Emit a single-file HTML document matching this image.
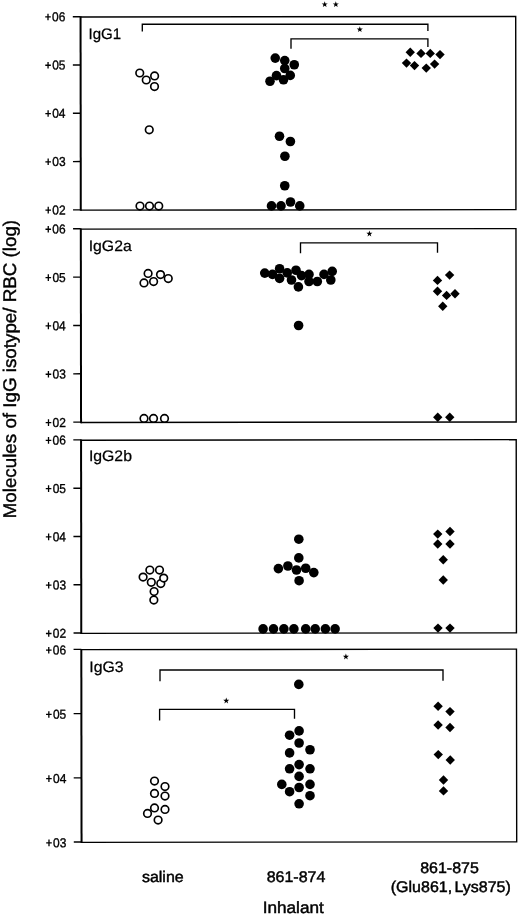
<!DOCTYPE html>
<html><head><meta charset="utf-8"><title>IgG isotypes</title>
<style>html,body{margin:0;padding:0;background:#fff;}body{width:520px;height:915px;overflow:hidden;}svg{display:block;filter:grayscale(1);}text{font-family:"Liberation Sans",sans-serif;fill:#000;}</style></head><body>
<svg width="520" height="915" viewBox="0 0 520 915">
<rect width="520" height="915" fill="#fff"/>
<g fill="#fff" stroke="#000" stroke-width="1.65">
<circle cx="158.1" cy="820" r="3.8"/>
<circle cx="147.5" cy="813.4" r="3.8"/>
<circle cx="165" cy="809.4" r="3.8"/>
<circle cx="154.5" cy="807.9" r="3.8"/>
<circle cx="165" cy="796" r="3.8"/>
<circle cx="154.5" cy="793.4" r="3.8"/>
<circle cx="165" cy="786.5" r="3.8"/>
<circle cx="154.5" cy="781" r="3.8"/>
<circle cx="153.85" cy="600" r="3.8"/>
<circle cx="154.1" cy="591.5" r="3.8"/>
<circle cx="160.8" cy="583.5" r="3.8"/>
<circle cx="151.3" cy="582.3" r="3.8"/>
<circle cx="163.7" cy="578.1" r="3.8"/>
<circle cx="143.1" cy="577.1" r="3.8"/>
<circle cx="149.85" cy="570" r="3.8"/>
<circle cx="159.5" cy="570" r="3.8"/>
<circle cx="144" cy="418.4" r="3.8"/>
<circle cx="153.5" cy="418.4" r="3.8"/>
<circle cx="164.5" cy="418.4" r="3.8"/>
<circle cx="144" cy="282.9" r="3.8"/>
<circle cx="153.6" cy="281.5" r="3.8"/>
<circle cx="168.25" cy="278.5" r="3.8"/>
<circle cx="160.5" cy="274.6" r="3.8"/>
<circle cx="148.1" cy="273.4" r="3.8"/>
<circle cx="140" cy="206" r="3.8"/>
<circle cx="149.5" cy="206" r="3.8"/>
<circle cx="158.75" cy="206" r="3.8"/>
<circle cx="149.25" cy="129.75" r="3.8"/>
<circle cx="154.5" cy="86.6" r="3.8"/>
<circle cx="146.25" cy="80" r="3.8"/>
<circle cx="154.6" cy="75.9" r="3.8"/>
<circle cx="139.75" cy="73" r="3.8"/>
</g>
<g fill="#000">
<circle cx="275.25" cy="58.1" r="4.8"/>
<circle cx="284.75" cy="60.6" r="4.8"/>
<circle cx="294.25" cy="64.75" r="4.8"/>
<circle cx="284.75" cy="68.5" r="4.8"/>
<circle cx="276.5" cy="75.6" r="4.8"/>
<circle cx="290.25" cy="75.4" r="4.8"/>
<circle cx="283.5" cy="79.75" r="4.8"/>
<circle cx="270" cy="81.25" r="4.8"/>
<circle cx="279.5" cy="136.25" r="4.8"/>
<circle cx="290.4" cy="141.5" r="4.8"/>
<circle cx="284.9" cy="156.25" r="4.8"/>
<circle cx="284.75" cy="185.75" r="4.8"/>
<circle cx="290.5" cy="202" r="4.8"/>
<circle cx="271.5" cy="205.9" r="4.8"/>
<circle cx="281" cy="205.9" r="4.8"/>
<circle cx="299.75" cy="205.9" r="4.8"/>
<circle cx="264.75" cy="273.1" r="4.8"/>
<circle cx="272.5" cy="274.4" r="4.8"/>
<circle cx="279.6" cy="268.75" r="4.8"/>
<circle cx="279.6" cy="278.4" r="4.8"/>
<circle cx="287.25" cy="272.9" r="4.8"/>
<circle cx="291.5" cy="280" r="4.8"/>
<circle cx="296" cy="270.25" r="4.8"/>
<circle cx="298.4" cy="286.9" r="4.8"/>
<circle cx="301.5" cy="275.6" r="4.8"/>
<circle cx="309" cy="274.4" r="4.8"/>
<circle cx="309" cy="281.5" r="4.8"/>
<circle cx="317.3" cy="281.5" r="4.8"/>
<circle cx="324" cy="274.4" r="4.8"/>
<circle cx="332.2" cy="271.4" r="4.8"/>
<circle cx="330.8" cy="280" r="4.8"/>
<circle cx="298.6" cy="325.5" r="4.8"/>
<circle cx="298.8" cy="539.2" r="4.8"/>
<circle cx="298.8" cy="557.9" r="4.8"/>
<circle cx="278.4" cy="568.6" r="4.8"/>
<circle cx="287.9" cy="566" r="4.8"/>
<circle cx="296.5" cy="570" r="4.8"/>
<circle cx="305.7" cy="568.25" r="4.8"/>
<circle cx="313.8" cy="572.6" r="4.8"/>
<circle cx="299.1" cy="580.7" r="4.8"/>
<circle cx="263.1" cy="628.9" r="4.8"/>
<circle cx="273.5" cy="628.9" r="4.8"/>
<circle cx="283.9" cy="628.9" r="4.8"/>
<circle cx="293.9" cy="628.9" r="4.8"/>
<circle cx="305.7" cy="628.9" r="4.8"/>
<circle cx="315.2" cy="628.9" r="4.8"/>
<circle cx="325.4" cy="628.9" r="4.8"/>
<circle cx="335.1" cy="628.9" r="4.8"/>
<circle cx="298.8" cy="684.4" r="4.8"/>
<circle cx="299.1" cy="730.9" r="4.8"/>
<circle cx="289.6" cy="735.2" r="4.8"/>
<circle cx="299.1" cy="743" r="4.8"/>
<circle cx="310" cy="749.75" r="4.8"/>
<circle cx="289.6" cy="752.9" r="4.8"/>
<circle cx="299.1" cy="764.6" r="4.8"/>
<circle cx="289.6" cy="768.8" r="4.8"/>
<circle cx="310" cy="768.8" r="4.8"/>
<circle cx="299.1" cy="776.4" r="4.8"/>
<circle cx="281.8" cy="784.4" r="4.8"/>
<circle cx="310" cy="784.4" r="4.8"/>
<circle cx="299.1" cy="787.5" r="4.8"/>
<circle cx="289.6" cy="791.7" r="4.8"/>
<circle cx="310" cy="795.7" r="4.8"/>
<circle cx="299.1" cy="803.8" r="4.8"/>
<path d="M405.55 52.25L410.25 47.55L414.95 52.25L410.25 56.95Z"/>
<path d="M416.3 53.4L421 48.699999999999996L425.7 53.4L421 58.1Z"/>
<path d="M425.55 53.4L430.25 48.699999999999996L434.95 53.4L430.25 58.1Z"/>
<path d="M435.3 54.6L440 49.9L444.7 54.6L440 59.300000000000004Z"/>
<path d="M401.8 63.1L406.5 58.4L411.2 63.1L406.5 67.8Z"/>
<path d="M409.8 65.6L414.5 60.89999999999999L419.2 65.6L414.5 70.3Z"/>
<path d="M421.55 68.1L426.25 63.39999999999999L430.95 68.1L426.25 72.8Z"/>
<path d="M429.90000000000003 64.1L434.6 59.39999999999999L439.3 64.1L434.6 68.8Z"/>
<path d="M444.90000000000003 275.1L449.6 270.40000000000003L454.3 275.1L449.6 279.8Z"/>
<path d="M432.8 280.4L437.5 275.7L442.2 280.4L437.5 285.09999999999997Z"/>
<path d="M432.8 291.25L437.5 286.55L442.2 291.25L437.5 295.95Z"/>
<path d="M441.90000000000003 295.4L446.6 290.7L451.3 295.4L446.6 300.09999999999997Z"/>
<path d="M450.3 293.75L455 289.05L459.7 293.75L455 298.45Z"/>
<path d="M438.05 306.25L442.75 301.55L447.45 306.25L442.75 310.95Z"/>
<path d="M433.05 417.25L437.75 412.55L442.45 417.25L437.75 421.95Z"/>
<path d="M445.05 417.25L449.75 412.55L454.45 417.25L449.75 421.95Z"/>
<path d="M445.3 531.5L450 526.8L454.7 531.5L450 536.2Z"/>
<path d="M433.05 534.1L437.75 529.4L442.45 534.1L437.75 538.8000000000001Z"/>
<path d="M433.05 544L437.75 539.3L442.45 544L437.75 548.7Z"/>
<path d="M445.3 544L450 539.3L454.7 544L450 548.7Z"/>
<path d="M438.55 559.75L443.25 555.05L447.95 559.75L443.25 564.45Z"/>
<path d="M438.55 580L443.25 575.3L447.95 580L443.25 584.7Z"/>
<path d="M433.3 628.1L438 623.4L442.7 628.1L438 632.8000000000001Z"/>
<path d="M445.3 628.1L450 623.4L454.7 628.1L450 632.8000000000001Z"/>
<path d="M433.40000000000003 706.25L438.1 701.55L442.8 706.25L438.1 710.95Z"/>
<path d="M445.3 711.6L450 706.9L454.7 711.6L450 716.3000000000001Z"/>
<path d="M433.40000000000003 725L438.1 720.3L442.8 725L438.1 729.7Z"/>
<path d="M445.3 727.5L450 722.8L454.7 727.5L450 732.2Z"/>
<path d="M433.55 754.6L438.25 749.9L442.95 754.6L438.25 759.3000000000001Z"/>
<path d="M445.55 760L450.25 755.3L454.95 760L450.25 764.7Z"/>
<path d="M438.8 780L443.5 775.3L448.2 780L443.5 784.7Z"/>
<path d="M438.8 790.9L443.5 786.1999999999999L448.2 790.9L443.5 795.6Z"/>
</g>
<g fill="none" stroke="#000" transform="rotate(-0.069 298 430)">
<path d="M81.05 16.05V210.6" stroke-width="2"/>
<path d="M81.05 16.75H516.2V209.9H81.05" stroke-width="1.4"/>
<path d="M73.3 16.45H81.05" stroke-width="1.4"/>
<path d="M73.3 64.74H81.05" stroke-width="1.4"/>
<path d="M73.3 113.03H81.05" stroke-width="1.4"/>
<path d="M73.3 161.31H81.05" stroke-width="1.4"/>
<path d="M73.3 209.60H81.05" stroke-width="1.4"/>
<path d="M81.05 228.15V422.9" stroke-width="2"/>
<path d="M81.05 228.85H516.2V422.2H81.05" stroke-width="1.4"/>
<path d="M73.3 228.55H81.05" stroke-width="1.4"/>
<path d="M73.3 276.89H81.05" stroke-width="1.4"/>
<path d="M73.3 325.22H81.05" stroke-width="1.4"/>
<path d="M73.3 373.56H81.05" stroke-width="1.4"/>
<path d="M73.3 421.90H81.05" stroke-width="1.4"/>
<path d="M81.05 439.23V633.8000000000001" stroke-width="2"/>
<path d="M81.05 439.93H516.2V633.1H81.05" stroke-width="1.4"/>
<path d="M73.3 439.63H81.05" stroke-width="1.4"/>
<path d="M73.3 487.92H81.05" stroke-width="1.4"/>
<path d="M73.3 536.22H81.05" stroke-width="1.4"/>
<path d="M73.3 584.51H81.05" stroke-width="1.4"/>
<path d="M73.3 632.80H81.05" stroke-width="1.4"/>
<path d="M81.05 648.6999999999999V842.8000000000001" stroke-width="2"/>
<path d="M81.05 649.4H516.2V842.1H81.05" stroke-width="1.4"/>
<path d="M73.3 649.10H81.05" stroke-width="1.4"/>
<path d="M73.3 713.33H81.05" stroke-width="1.4"/>
<path d="M73.3 777.57H81.05" stroke-width="1.4"/>
<path d="M73.3 841.80H81.05" stroke-width="1.4"/>
</g>
<g fill="none" stroke="#000">
<path d="M142.3 31.5V24.2H427.9V31.0" stroke-width="1.35"/>
<path d="M291.0 48.8V38.8H427.9V47.0" stroke-width="1.35"/>
<path d="M300.5 253.20000000000002V242.9H437.5V252.70000000000002" stroke-width="1.35"/>
<path d="M160.0 681.2V670.0H443.0V680.8" stroke-width="1.35"/>
<path d="M159.6 720.5V709.4H294.5V718.8" stroke-width="1.35"/>
</g>
<g text-rendering="geometricPrecision">
<g transform="rotate(-0.069 298 430)">
<text transform="translate(65.90 20.95) scale(0.93 1)" font-size="12.9px" text-anchor="end" stroke="#000" stroke-width="0.35">06</text>
<text transform="translate(65.90 69.24) scale(0.93 1)" font-size="12.9px" text-anchor="end" stroke="#000" stroke-width="0.35">05</text>
<text transform="translate(65.90 117.53) scale(0.93 1)" font-size="12.9px" text-anchor="end" stroke="#000" stroke-width="0.35">04</text>
<text transform="translate(65.90 165.81) scale(0.93 1)" font-size="12.9px" text-anchor="end" stroke="#000" stroke-width="0.35">03</text>
<text transform="translate(65.90 214.10) scale(0.93 1)" font-size="12.9px" text-anchor="end" stroke="#000" stroke-width="0.35">02</text>
<text transform="translate(65.90 233.25) scale(0.93 1)" font-size="12.9px" text-anchor="end" stroke="#000" stroke-width="0.35">06</text>
<text transform="translate(65.90 281.59) scale(0.93 1)" font-size="12.9px" text-anchor="end" stroke="#000" stroke-width="0.35">05</text>
<text transform="translate(65.90 329.92) scale(0.93 1)" font-size="12.9px" text-anchor="end" stroke="#000" stroke-width="0.35">04</text>
<text transform="translate(65.90 378.26) scale(0.93 1)" font-size="12.9px" text-anchor="end" stroke="#000" stroke-width="0.35">03</text>
<text transform="translate(65.90 426.60) scale(0.93 1)" font-size="12.9px" text-anchor="end" stroke="#000" stroke-width="0.35">02</text>
<text transform="translate(65.90 444.33) scale(0.93 1)" font-size="12.9px" text-anchor="end" stroke="#000" stroke-width="0.35">06</text>
<text transform="translate(65.90 492.62) scale(0.93 1)" font-size="12.9px" text-anchor="end" stroke="#000" stroke-width="0.35">05</text>
<text transform="translate(65.90 540.92) scale(0.93 1)" font-size="12.9px" text-anchor="end" stroke="#000" stroke-width="0.35">04</text>
<text transform="translate(65.90 589.21) scale(0.93 1)" font-size="12.9px" text-anchor="end" stroke="#000" stroke-width="0.35">03</text>
<text transform="translate(65.90 637.50) scale(0.93 1)" font-size="12.9px" text-anchor="end" stroke="#000" stroke-width="0.35">02</text>
<text transform="translate(65.90 654.20) scale(0.93 1)" font-size="12.9px" text-anchor="end" stroke="#000" stroke-width="0.35">06</text>
<text transform="translate(65.90 718.43) scale(0.93 1)" font-size="12.9px" text-anchor="end" stroke="#000" stroke-width="0.35">05</text>
<text transform="translate(65.90 782.67) scale(0.93 1)" font-size="12.9px" text-anchor="end" stroke="#000" stroke-width="0.35">04</text>
<text transform="translate(65.90 846.90) scale(0.93 1)" font-size="12.9px" text-anchor="end" stroke="#000" stroke-width="0.35">03</text>
<path d="M45.7 16.65h5.6M48.5 13.35v6.6M45.7 64.94h5.6M48.5 61.64v6.6M45.7 113.23h5.6M48.5 109.92v6.6M45.7 161.51h5.6M48.5 158.21v6.6M45.7 209.80h5.6M48.5 206.50v6.6M45.7 228.95h5.6M48.5 225.65v6.6M45.7 277.29h5.6M48.5 273.99v6.6M45.7 325.62h5.6M48.5 322.32v6.6M45.7 373.96h5.6M48.5 370.66v6.6M45.7 422.30h5.6M48.5 419.00v6.6M45.7 440.03h5.6M48.5 436.73v6.6M45.7 488.32h5.6M48.5 485.02v6.6M45.7 536.62h5.6M48.5 533.32v6.6M45.7 584.91h5.6M48.5 581.61v6.6M45.7 633.20h5.6M48.5 629.90v6.6M45.7 649.90h5.6M48.5 646.60v6.6M45.7 714.13h5.6M48.5 710.83v6.6M45.7 778.37h5.6M48.5 775.07v6.6M45.7 842.60h5.6M48.5 839.30v6.6" fill="none" stroke="#000" stroke-width="1.3"/>
</g>
<text transform="translate(88.50 38.60) scale(0.99 1)" font-size="15.2px" text-anchor="start" stroke="#000" stroke-width="0.25">IgG1</text>
<text transform="translate(88.70 250.60) scale(1.04 1)" font-size="15.2px" text-anchor="start" stroke="#000" stroke-width="0.25">IgG2a</text>
<text transform="translate(88.90 460.70) scale(1.04 1)" font-size="15.2px" text-anchor="start" stroke="#000" stroke-width="0.25">IgG2b</text>
<text transform="translate(89.30 672.40) scale(1.04 1)" font-size="15.2px" text-anchor="start" stroke="#000" stroke-width="0.25">IgG3</text>
<text transform="translate(162.80 882.00) scale(1.039 1)" font-size="15.4px" text-anchor="middle" stroke="#000" stroke-width="0.45">saline</text>
<text transform="translate(296.00 882.00) scale(1.039 1)" font-size="15.4px" text-anchor="middle" stroke="#000" stroke-width="0.45">861-874</text>
<text transform="translate(449.50 873.40) scale(1.039 1)" font-size="15.4px" text-anchor="middle" stroke="#000" stroke-width="0.45">861-875</text>
<text transform="translate(450.80 891.60) scale(1.039 1)" font-size="15.4px" text-anchor="middle" stroke="#000" stroke-width="0.45">(Glu861,<tspan dx="2.3">Lys875)</tspan></text>
<text transform="translate(293.20 913.00) scale(1.055 1)" font-size="16.3px" text-anchor="middle" stroke="#000" stroke-width="0.45">Inhalant</text>
<text transform="translate(16.40 369.10) rotate(-90) scale(1.027 1)" font-size="18.3px" text-anchor="middle" stroke="#000" stroke-width="0.4">Molecules of IgG isotype/ RBC (log)</text>
</g>
<g fill="#000">
<polygon points="324.70,1.26 325.46,3.40 327.74,3.47 325.94,4.86 326.58,7.04 324.70,5.76 322.82,7.04 323.46,4.86 321.66,3.47 323.94,3.40"/>
<polygon points="335.80,1.26 336.56,3.40 338.84,3.47 337.04,4.86 337.68,7.04 335.80,5.76 333.92,7.04 334.56,4.86 332.76,3.47 335.04,3.40"/>
<polygon points="359.80,26.31 360.56,28.45 362.84,28.52 361.04,29.91 361.68,32.09 359.80,30.81 357.92,32.09 358.56,29.91 356.76,28.52 359.04,28.45"/>
<polygon points="369.40,230.61 370.16,232.75 372.44,232.82 370.64,234.21 371.28,236.39 369.40,235.11 367.52,236.39 368.16,234.21 366.36,232.82 368.64,232.75"/>
<polygon points="345.90,653.61 346.66,655.75 348.94,655.82 347.14,657.21 347.78,659.39 345.90,658.11 344.02,659.39 344.66,657.21 342.86,655.82 345.14,655.75"/>
<polygon points="226.25,697.61 227.01,699.75 229.29,699.82 227.49,701.21 228.13,703.39 226.25,702.11 224.37,703.39 225.01,701.21 223.21,699.82 225.49,699.75"/>
</g>
</svg></body></html>
